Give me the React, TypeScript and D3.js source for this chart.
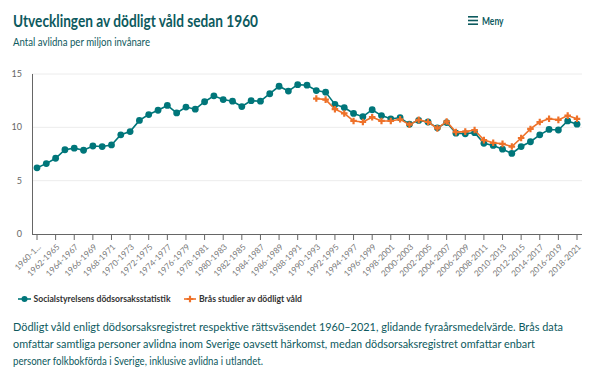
import React from "react";
import * as d3 from "d3";

const categories: string[] = [];
for (let y = 1960; y <= 2018; y++) categories.push(`${y}-${y + 3}`);

const socialstyrelsen: number[] = [
  6.2, 6.6, 7.1, 7.9, 8.05, 7.85, 8.25, 8.2, 8.35, 9.3,
  9.6, 10.65, 11.2, 11.6, 12.05, 11.35, 11.9, 11.7, 12.4, 12.95,
  12.6, 12.45, 11.95, 12.5, 12.45, 13.15, 13.85, 13.4, 14.0, 13.95,
  13.45, 13.3, 12.15, 11.85, 11.3, 11.0, 11.65, 11.1, 10.8, 10.9,
  10.3, 10.65, 10.5, 9.95, 10.45, 9.45, 9.4, 9.5, 8.5, 8.3,
  7.95, 7.55, 8.2, 8.65, 9.3, 9.8, 9.75, 10.6, 10.3,
];

const bra: (number | null)[] = [
  null, null, null, null, null, null, null, null, null, null,
  null, null, null, null, null, null, null, null, null, null,
  null, null, null, null, null, null, null, null, null, null,
  12.7, 12.6, 11.7, 11.3, 10.6, 10.5, 10.95, 10.6, 10.6, 10.75,
  10.25, 10.7, 10.5, 9.9, 10.55, 9.55, 9.6, 9.75, 8.8, 8.55,
  8.45, 8.2, 9.0, 9.85, 10.5, 10.8, 10.7, 11.1, 10.8,
];

const yTicks = [0, 5, 10, 15];
const seriesNames = ["Socialstyrelsens dödsorsaksstatistik", "Brås studier av dödligt våld"];
const footerLines = [
  "Dödligt våld enligt dödsorsaksregistret respektive rättsväsendet 1960–2021, glidande fyraårsmedelvärde. Brås data",
  "omfattar samtliga personer avlidna inom Sverige oavsett härkomst, medan dödsorsaksregistret omfattar enbart",
  "personer folkbokförda i Sverige, inklusive avlidna i utlandet.",
];
const footerWidths = [550, 522, 250];

const TEAL = "#00767a";
const ORANGE = "#ee7129";
const DARK = "#0d5a5e";
const FONT = "'Source Sans Pro', Lato, 'Noto Sans', sans-serif";

export default function App() {
  const x = d3.scalePoint<string>().domain(categories).range([37, 577]);
  const y = d3.scaleLinear().domain([0, 15]).range([234, 74]);
  const line = d3
    .line<number | null>()
    .defined((d) => d !== null)
    .x((_, i) => x(categories[i]) as number)
    .y((d) => y(d as number));
  const cross = d3.symbol().type(d3.symbolCross).size(24)()!;

  return (
    <div style={{ position: "absolute", left: 0, top: 0 }}>
      <svg width={600} height={370} style={{ display: "block", fontFamily: FONT }}>
        <rect width={600} height={370} fill="#fff" />
        <text x={13} y={26.5} fontSize={17.5} fontWeight={700} fill={DARK} textLength={245} lengthAdjust="spacingAndGlyphs">
          Utvecklingen av dödligt våld sedan 1960
        </text>
        <text x={13} y={45.5} fontSize={11.5} fill={DARK} textLength={137} lengthAdjust="spacingAndGlyphs">
          Antal avlidna per miljon invånare
        </text>
        <g fill={DARK}>
          <rect x={468} y={16} width={10} height={1.6} />
          <rect x={468} y={19.7} width={10} height={1.6} />
          <rect x={468} y={23.4} width={10} height={1.6} />
        </g>
        <text x={482} y={25} fontSize={11.5} fontWeight={700} fill={DARK} textLength={21.5} lengthAdjust="spacingAndGlyphs">
          Meny
        </text>

        {yTicks.map((t) => (
          <g key={t}>
            {t > 0 && (
              <line x1={32} x2={582} y1={y(t)} y2={y(t)} stroke="#ececec" strokeWidth={1} />
            )}
            <text x={22} y={y(t)} dy="0.35em" textAnchor="end" fontSize={9} fill="#666">
              {t}
            </text>
          </g>
        ))}
        <line x1={32.5} x2={32.5} y1={74} y2={234} stroke="#666" strokeWidth={1} />
        <line x1={32} x2={582} y1={234.5} y2={234.5} stroke="#666" strokeWidth={1} />
        {categories.map((c, i) =>
          i % 2 === 0 ? (
            <g key={c} transform={`translate(${x(c)},0)`}>
              <line y1={234} y2={240} stroke="#666" strokeWidth={1} />
              <text
                transform="translate(3,246) rotate(-45)"
                textAnchor="end"
                dominantBaseline="middle"
                fontSize={8.3}
                fill="#777"
              >
                {i === 0 ? "1960-1..." : c}
              </text>
            </g>
          ) : null
        )}

        <path d={line(socialstyrelsen)!} fill="none" stroke={TEAL} strokeWidth={1.6} />
        {socialstyrelsen.map((v, i) => (
          <circle key={i} cx={x(categories[i])} cy={y(v)} r={3.4} fill={TEAL} />
        ))}
        <path d={line(bra)!} fill="none" stroke={ORANGE} strokeWidth={1.6} />
        {bra.map((v, i) =>
          v === null ? null : (
            <path
              key={i}
              d={cross}
              transform={`translate(${x(categories[i])},${y(v)})`}
              fill={ORANGE}
            />
          )
        )}

        <g transform="translate(18,299)">
          <line x1={0} x2={13} stroke={TEAL} strokeWidth={1.6} />
          <circle cx={6.5} r={3} fill={TEAL} />
          <text x={15.5} dy="0.35em" fontSize={9} fontWeight={700} fill="#333" textLength={137} lengthAdjust="spacingAndGlyphs">
            {seriesNames[0]}
          </text>
        </g>
        <g transform="translate(184,299)">
          <line x1={0} x2={12} stroke={ORANGE} strokeWidth={1.6} />
          <path d={cross} transform="translate(6,0)" fill={ORANGE} />
          <text x={15} dy="0.35em" fontSize={9} fontWeight={700} fill="#333" textLength={103} lengthAdjust="spacingAndGlyphs">
            {seriesNames[1]}
          </text>
        </g>

        {footerLines.map((l, i) => (
          <text
            key={i}
            x={13}
            y={330.5 + i * 17}
            fontSize={11.2}
            fill={DARK}
            textLength={footerWidths[i]}
            lengthAdjust="spacingAndGlyphs"
          >
            {l}
          </text>
        ))}
      </svg>
    </div>
  );
}
